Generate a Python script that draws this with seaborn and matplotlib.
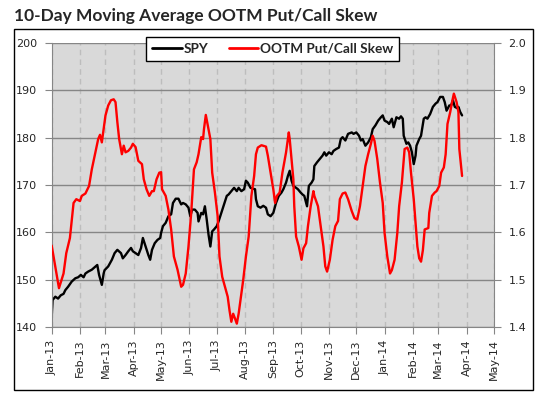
import matplotlib
matplotlib.use("Agg")
import matplotlib.pyplot as plt
import matplotlib.dates as mdates
import matplotlib.patches as patches
import matplotlib.ticker as mticker
import seaborn as sns
import pandas as pd

# values; days counted from 2013-01-01
start = pd.Timestamp("2013-01-01")

spy_days = [0, 1, 4, 7, 10, 13, 15, 18, 22, 26,
            29, 32, 35, 37, 40, 44, 47, 50, 52, 55,
            57, 58, 62, 66, 69, 72, 76, 78, 81, 84,
            87, 89, 92, 95, 98, 100, 103, 106, 108, 110,
            113, 116, 119, 120, 122, 125, 128, 131, 133, 136,
            139, 142, 144, 147, 150, 152, 154, 157, 160, 161,
            164, 166, 168, 170, 172, 174, 176, 178, 181, 183,
            186, 189, 192, 194, 197, 200, 203, 205, 208, 211,
            213, 215, 218, 221, 223, 224, 226, 229, 232, 235,
            237, 240, 243, 246, 249, 252, 254, 257, 259, 261,
            263, 265, 268, 270, 273, 275, 277, 280, 282, 285,
            287, 288, 291, 294, 297, 299, 301, 304, 307, 309,
            312, 315, 317, 319, 322, 325, 329, 331, 334, 337,
            339, 341, 344, 347, 350, 352, 355, 358, 361, 363,
            365, 368, 370, 373, 375, 378, 381, 383, 385, 386,
            389, 391, 393, 395, 397, 399, 400, 403, 405, 408,
            410, 412, 415, 418, 421, 423, 426, 429, 431, 433,
            436, 438, 440, 442, 445, 446, 448, 450]
spy = [142.1, 145.7, 146.4, 146.0, 146.7, 147.0, 147.8, 148.5, 149.6, 150.3,
       150.5, 151.0, 150.5, 151.3, 151.7, 152.1, 152.6, 153.1, 151.0, 148.9,
       151.3, 152.0, 152.8, 154.2, 155.6, 156.3, 155.6, 154.5, 155.2, 156.0,
       156.7, 156.0, 155.6, 155.2, 156.7, 158.8, 157.0, 155.2, 154.2, 156.3,
       157.7, 158.4, 158.8, 159.9, 161.3, 162.0, 163.4, 163.8, 166.2, 167.1,
       167.1, 165.9, 166.2, 165.9, 165.2, 163.4, 164.8, 164.8, 164.1, 162.3,
       164.1, 163.8, 165.5, 162.7, 159.5, 157.0, 160.2, 160.6, 161.3, 162.3,
       164.1, 165.9, 167.7, 168.0, 168.7, 169.4, 168.7, 169.4, 168.7, 169.1,
       170.9, 170.5, 169.4, 169.2, 169.1, 167.0, 165.5, 165.2, 165.6, 165.2,
       163.8, 163.4, 164.1, 166.2, 167.7, 168.4, 169.1, 170.5, 171.9, 173.0,
       170.9, 169.8, 169.4, 169.1, 168.4, 168.0, 167.7, 165.5, 169.8, 170.5,
       171.2, 174.0, 174.8, 175.5, 176.2, 176.9, 176.2, 176.9, 176.5, 177.2,
       177.6, 177.9, 179.7, 180.1, 179.4, 180.8, 181.1, 180.8, 181.1, 180.4,
       179.4, 179.7, 178.3, 179.0, 180.1, 181.8, 182.6, 183.6, 184.3, 184.7,
       183.6, 183.3, 182.9, 184.0, 182.2, 184.3, 184.0, 184.5, 184.0, 180.4,
       178.7, 179.0, 178.3, 176.9, 174.4, 176.2, 178.3, 179.7, 180.4, 184.0,
       184.3, 184.0, 185.0, 186.5, 187.2, 187.5, 188.6, 188.6, 187.5, 185.7,
       186.8, 186.8, 187.9, 186.5, 186.2, 186.5, 185.4, 184.7]

skew_days = [0, 8, 13, 16, 20, 24, 27, 31, 33, 37,
             41, 44, 48, 51, 53, 55, 57, 59, 62, 65,
             68, 70, 72, 74, 77, 79, 81, 84, 87, 89,
             92, 95, 99, 101, 104, 107, 110, 112, 115, 118,
             120, 121, 125, 128, 131, 134, 138, 142, 144, 147,
             150, 153, 156, 159, 161, 164, 166, 167, 169, 172,
             174, 176, 179, 182, 184, 187, 190, 193, 195, 197,
             199, 201, 203, 205, 207, 210, 213, 216, 219, 222,
             224, 226, 230, 235, 237, 240, 243, 245, 247, 250,
             253, 256, 257, 260, 261, 263, 265, 266, 268, 271,
             274, 276, 279, 281, 284, 287, 288, 292, 295, 298,
             300, 302, 305, 308, 311, 314, 316, 319, 322, 325,
             329, 332, 335, 338, 341, 344, 347, 350, 352, 354,
             357, 360, 363, 365, 368, 371, 373, 376, 379, 381,
             384, 387, 390, 392, 394, 397, 399, 401, 403, 405,
             407, 409, 413, 414, 417, 420, 422, 425, 427, 430,
             432, 434, 437, 439, 441, 444, 446, 447, 450]
skew = [1.572, 1.482, 1.513, 1.556, 1.588, 1.662, 1.670, 1.666, 1.677, 1.682,
        1.698, 1.733, 1.769, 1.797, 1.806, 1.790, 1.818, 1.847, 1.868, 1.879,
        1.881, 1.875, 1.833, 1.797, 1.765, 1.783, 1.769, 1.772, 1.779, 1.787,
        1.780, 1.751, 1.744, 1.712, 1.691, 1.677, 1.687, 1.687, 1.712, 1.726,
        1.727, 1.691, 1.677, 1.648, 1.606, 1.549, 1.521, 1.485, 1.489, 1.513,
        1.570, 1.641, 1.733, 1.748, 1.765, 1.801, 1.797, 1.818, 1.848, 1.818,
        1.797, 1.726, 1.684, 1.634, 1.549, 1.506, 1.485, 1.464, 1.435, 1.411,
        1.428, 1.418, 1.407, 1.428, 1.457, 1.499, 1.549, 1.591, 1.677, 1.719,
        1.765, 1.779, 1.784, 1.781, 1.762, 1.726, 1.691, 1.662, 1.677, 1.684,
        1.726, 1.758, 1.769, 1.811, 1.797, 1.755, 1.712, 1.655, 1.591, 1.570,
        1.542, 1.566, 1.577, 1.613, 1.655, 1.687, 1.677, 1.655, 1.613, 1.570,
        1.528, 1.517, 1.542, 1.584, 1.613, 1.624, 1.670, 1.682, 1.684, 1.670,
        1.645, 1.630, 1.627, 1.655, 1.698, 1.740, 1.765, 1.787, 1.804, 1.793,
        1.755, 1.705, 1.662, 1.599, 1.549, 1.513, 1.520, 1.542, 1.599, 1.655,
        1.705, 1.776, 1.779, 1.769, 1.726, 1.670, 1.620, 1.570, 1.545, 1.538,
        1.562, 1.606, 1.609, 1.641, 1.677, 1.684, 1.687, 1.698, 1.726, 1.737,
        1.765, 1.829, 1.854, 1.875, 1.893, 1.875, 1.854, 1.776, 1.719]

spy_df = pd.DataFrame({"date": start + pd.to_timedelta(spy_days, unit="D"), "SPY": spy})
skew_df = pd.DataFrame({"date": start + pd.to_timedelta(skew_days, unit="D"), "skew": skew})

sns.set_style("white")
plt.rcParams['font.family'] = ['DejaVu Sans']

fig = plt.figure(figsize=(5.4, 3.99), dpi=100)
ax = fig.add_axes([0.0957, 0.1805, 0.8191, 0.7118])
ax.set_facecolor("#d9d9d9")
ax2 = ax.twinx()

sns.lineplot(data=spy_df, x="date", y="SPY", ax=ax, color="black", lw=1.7, label="SPY", legend=False)
sns.lineplot(data=skew_df, x="date", y="skew", ax=ax2, color="#ff0000", lw=1.7,
             label="OOTM Put/Call Skew", legend=False)

ax.set_xlim(pd.Timestamp("2013-01-01"), pd.Timestamp("2014-05-01"))
ax.set_ylim(140, 200)
ax2.set_ylim(1.4, 2.0)
ax.set_yticks(range(140, 201, 10))
ax2.set_yticks([1.4, 1.5, 1.6, 1.7, 1.8, 1.9, 2.0])
ax2.yaxis.set_major_formatter(mticker.FormatStrFormatter("%.1f"))
ax.set_xticks(pd.date_range("2013-01-01", "2014-05-01", freq="MS"))
ax.xaxis.set_major_formatter(mdates.DateFormatter("%b-%y"))
for a in (ax, ax2):
    a.set_xlabel("")
    a.set_ylabel("")

ax.set_axisbelow(True)
ax.grid(axis="y", color="#868686", lw=1)
ax.grid(axis="x", color="#bdbdbd", lw=1, ls=(0, (4, 3)))

gray = "#868686"
for a in (ax, ax2):
    a.spines["top"].set_visible(False)
ax.spines["right"].set_visible(False)
ax.spines["left"].set_color(gray)
ax.spines["bottom"].set_color(gray)
ax2.spines["left"].set_visible(False)
ax2.spines["bottom"].set_visible(False)
ax2.spines["right"].set_color(gray)

ax.tick_params(axis="y", length=5, color=gray, labelsize=8, pad=5.5, left=True)
ax2.tick_params(axis="y", length=5, color=gray, labelsize=8, pad=5.5, right=True)
ax.tick_params(axis="x", length=5, color=gray, labelsize=8, pad=4, bottom=True, rotation=90)

h1, l1 = ax.get_legend_handles_labels()
h2, l2 = ax2.get_legend_handles_labels()
leg = fig.legend(h1 + h2, l1 + l2, loc="center", bbox_to_anchor=(0.5046, 0.878), ncol=2,
                 prop={"family": "Lato", "weight": "bold", "size": 9.8},
                 frameon=True, fancybox=False, framealpha=1, edgecolor="black",
                 handlelength=2.2, handletextpad=0.1, columnspacing=1.5, borderpad=0.45)
leg.get_frame().set_linewidth(1.0)
for line in leg.get_lines():
    line.set_linewidth(2)

fig.text(0.026, 0.961, "10-Day Moving Average OOTM Put/Call Skew", fontsize=12.5,
         family="Lato", weight="bold", va="center", ha="left")

fig.patches.append(patches.Rectangle((0.026, 0.0226), 0.961, 0.9044, transform=fig.transFigure,
                                     fill=False, edgecolor="black", lw=1))

fig.savefig("out.png", dpi=100)
